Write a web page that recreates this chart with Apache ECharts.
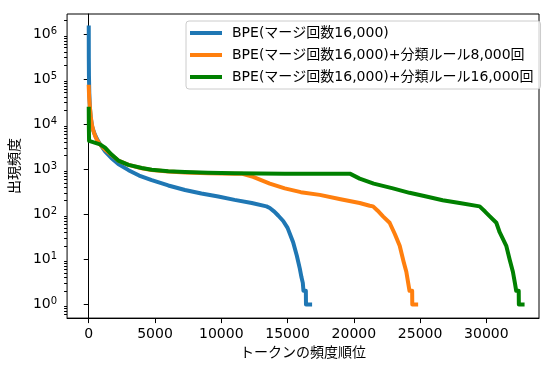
<!DOCTYPE html>
<html><head><meta charset="utf-8">
<script src="https://cdn.jsdelivr.net/npm/echarts@6/dist/echarts.min.js"></script>
<style>html,body{margin:0;padding:0;background:#fff}#c{width:543px;height:365px}</style>
</head><body><div id="c"></div>
<script>
const seriesNames = [
  'BPE(マージ回数16,000)',
  'BPE(マージ回数16,000)+分類ルール8,000回',
  'BPE(マージ回数16,000)+分類ルール16,000回'
];
const seriesColors = ['#1f77b4', '#ff7f0e', '#008000'];

const bpeRank = [0,5,15,40,80,150,250,400,600,850,1230,1700,2230,3000,3800,4750,6000,7260,8500,9770,11000,12300,13410,13660,14000,14290,14670,15000,15420,15700,15920,16050,16150,16200,16380,16390,16700];
const bpeFreq = [1.4e6,3e5,1.2e5,5e4,2.5e4,1.4e4,9000,6500,4800,3600,2500,1780,1310,955,725,572,437,347,290,248,209,178,150,138,115,94,71,50,24,12,6.3,4,3,2,2,1,1];

const rule8kRank = [0,30,80,150,230,350,500,650,850,1200,1700,2230,3000,4000,4750,6000,7260,9000,11000,11600,12400,13660,14790,16000,17430,19000,20440,21200,21450,21800,22200,22700,23100,23460,23750,23960,24100,24200,24400,24410,24700];
const rule8kFreq = [68000,40000,25000,15000,10000,7100,5300,4300,3570,2800,2100,1560,1250,1050,960,890,850,820,800,790,675,482,376,310,270,215,178,155,150,120,90,65,36,20,9,5.3,3,2,2,1,1];

const rule16kRank = [0,10,25,850,1230,1700,2230,3000,4000,4750,6000,7260,9000,11000,14790,19700,20440,21500,22950,24200,25470,26700,27980,29490,29900,30240,30750,31000,31500,31750,32000,32150,32250,32440,32450,32730];
const rule16kFreq = [22000,8000,4250,3570,3030,2150,1560,1250,1070,975,900,870,840,820,800,800,620,480,376,300,248,205,178,150,115,91,65,40,20,10,5.3,3,2,2,1,1];

const xTicks = [0,5000,10000,15000,20000,25000,30000];
const yMajorTicks = [1,10,100,1000,10000,100000,1000000];
const yMinorTicks = [];
for (let e = -1; e <= 6; e++) {
  for (let m = 2; m <= 9; m++) {
    const v = m * Math.pow(10, e);
    if (v > 0.5 && v < 2.8e6) yMinorTicks.push(+v.toPrecision(3));
  }
}

const FONT = "'DejaVu Sans', 'Noto Sans CJK JP', sans-serif";
const zip = (xs, ys) => xs.map((x, i) => [x, ys[i]]);
const ranks = [bpeRank, rule8kRank, rule16kRank];
const freqs = [bpeFreq, rule8kFreq, rule16kFreq];

const chart = echarts.init(document.getElementById('c'), null, {renderer: 'canvas'});
chart.setOption({
  animation: false,
  backgroundColor: '#fff',
  grid: {left: 67, right: 4, top: 14, bottom: 41, show: true, borderColor: '#000', borderWidth: 1, backgroundColor: 'transparent'},
  legend: {
    orient: 'vertical', left: 186, top: 21,
    icon: 'rect', itemWidth: 32, itemHeight: 4, itemGap: 8,
    padding: [5, 7, 5, 4],
    backgroundColor: 'rgba(255,255,255,0.8)', borderColor: '#cccccc', borderWidth: 1, borderRadius: 3,
    textStyle: {fontFamily: FONT, fontSize: 14, color: '#000', lineHeight: 14, padding: [0, 0, 0, 5]},
    data: seriesNames
  },
  xAxis: {
    type: 'value', min: -1635, max: 33970,
    name: 'トークンの頻度順位', nameLocation: 'middle', nameGap: 26,
    nameTextStyle: {fontFamily: FONT, fontSize: 14, color: '#000'},
    axisLine: {show: true, lineStyle: {color: '#000', width: 1}},
    axisTick: {show: true, length: 5, lineStyle: {color: '#000', width: 1}, customValues: xTicks},
    axisLabel: {fontFamily: FONT, fontSize: 14, color: '#000', margin: 9, customValues: xTicks, formatter: v => String(v)},
    splitLine: {show: false}
  },
  yAxis: [{
    type: 'log', logBase: 10, min: 0.496, max: 2.8e6,
    name: '出現頻度', nameLocation: 'middle', nameGap: 40,
    nameTextStyle: {fontFamily: FONT, fontSize: 14, color: '#000'},
    axisLine: {show: true, lineStyle: {color: '#000', width: 1}},
    axisTick: {show: true, length: 5, lineStyle: {color: '#000', width: 1}, customValues: yMajorTicks},
    axisLabel: {
      margin: 10, customValues: yMajorTicks,
      formatter: v => '{b|10}{s|' + Math.round(Math.log10(v)) + '}',
      rich: {
        b: {fontFamily: FONT, fontSize: 14, color: '#000', lineHeight: 16},
        s: {fontFamily: FONT, fontSize: 10, color: '#000', lineHeight: 9, verticalAlign: 'top'}
      }
    },
    splitLine: {show: false}
  }, {
    type: 'log', logBase: 10, min: 0.496, max: 2.8e6, position: 'left',
    axisLine: {show: false},
    axisTick: {show: true, length: 3, lineStyle: {color: '#000', width: 1}, customValues: yMinorTicks},
    axisLabel: {show: false},
    splitLine: {show: false}
  }],
  series: seriesNames.map((name, i) => ({
    name, type: 'line', showSymbol: false, symbol: 'none',
    data: zip(ranks[i], freqs[i]),
    color: seriesColors[i],
    lineStyle: {color: seriesColors[i], width: 4, cap: 'square', join: 'round'},
    z: 2 + i
  }))
});
</script></body></html>
